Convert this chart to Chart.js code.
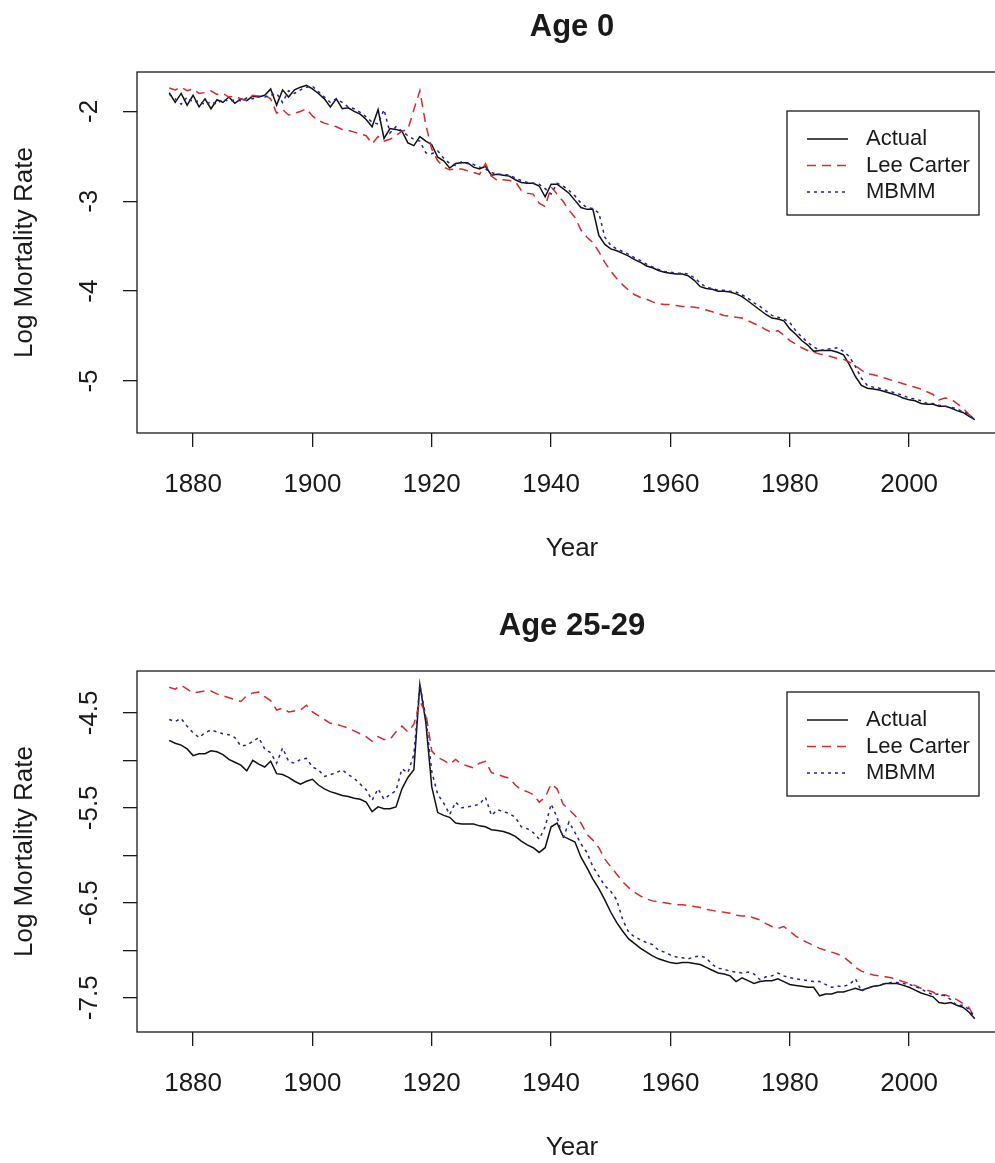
<!DOCTYPE html>
<html>
<head>
<meta charset="utf-8">
<title>Log Mortality Rate</title>
<script src="https://cdn.jsdelivr.net/npm/chart.js@4.4.1/dist/chart.umd.min.js"></script>
<style>
  html,body{margin:0;padding:0;background:#fff;overflow:hidden;width:995px;height:1163px;position:relative;}
  .panel{position:absolute;left:0;width:1010px;height:599px;}
  canvas{display:block;}
</style>
</head>
<body>
<div class="panel" style="top:0"><canvas id="age0" width="1010" height="599" style="width:1010px;height:599px"></canvas></div>
<div class="panel" style="top:599px"><canvas id="age2529" width="1010" height="599" style="width:1010px;height:599px"></canvas></div>
<script>
// Years 1876-2011
const years = [
  1876,1877,1878,1879,1880,1881,1882,1883,1884,1885,
  1886,1887,1888,1889,1890,1891,1892,1893,1894,1895,
  1896,1897,1898,1899,1900,1901,1902,1903,1904,1905,
  1906,1907,1908,1909,1910,1911,1912,1913,1914,1915,
  1916,1917,1918,1919,1920,1921,1922,1923,1924,1925,
  1926,1927,1928,1929,1930,1931,1932,1933,1934,1935,
  1936,1937,1938,1939,1940,1941,1942,1943,1944,1945,
  1946,1947,1948,1949,1950,1951,1952,1953,1954,1955,
  1956,1957,1958,1959,1960,1961,1962,1963,1964,1965,
  1966,1967,1968,1969,1970,1971,1972,1973,1974,1975,
  1976,1977,1978,1979,1980,1981,1982,1983,1984,1985,
  1986,1987,1988,1989,1990,1991,1992,1993,1994,1995,
  1996,1997,1998,1999,2000,2001,2002,2003,2004,2005,
  2006,2007,2008,2009,2010,2011
];

// Age 0
const age0Actual = [
  -1.79,-1.90,-1.80,-1.93,-1.82,-1.95,-1.86,-1.97,-1.87,-1.90,
  -1.84,-1.91,-1.86,-1.88,-1.83,-1.84,-1.82,-1.75,-1.93,-1.76,
  -1.84,-1.76,-1.73,-1.71,-1.75,-1.80,-1.86,-1.95,-1.86,-1.97,
  -1.96,-2.00,-2.03,-2.09,-2.17,-1.98,-2.30,-2.19,-2.20,-2.22,
  -2.35,-2.38,-2.28,-2.33,-2.37,-2.51,-2.55,-2.63,-2.58,-2.57,
  -2.57,-2.62,-2.64,-2.61,-2.71,-2.70,-2.71,-2.72,-2.76,-2.79,
  -2.80,-2.80,-2.83,-2.95,-2.81,-2.81,-2.86,-2.91,-2.99,-3.07,
  -3.09,-3.09,-3.38,-3.48,-3.53,-3.55,-3.58,-3.61,-3.65,-3.68,
  -3.72,-3.74,-3.77,-3.79,-3.80,-3.81,-3.81,-3.83,-3.88,-3.95,
  -3.97,-3.98,-4.00,-4.00,-4.01,-4.03,-4.06,-4.11,-4.16,-4.21,
  -4.26,-4.30,-4.31,-4.33,-4.42,-4.48,-4.55,-4.60,-4.67,-4.66,
  -4.66,-4.66,-4.68,-4.71,-4.82,-4.95,-5.05,-5.08,-5.09,-5.10,
  -5.12,-5.14,-5.16,-5.19,-5.21,-5.22,-5.25,-5.26,-5.26,-5.28,
  -5.28,-5.30,-5.33,-5.35,-5.39,-5.43
];
const age0LeeCarter = [
  -1.74,-1.76,-1.73,-1.77,-1.75,-1.80,-1.79,-1.77,-1.81,-1.80,
  -1.84,-1.83,-1.86,-1.88,-1.82,-1.83,-1.82,-1.86,-2.02,-1.98,
  -2.04,-2.02,-2.00,-1.97,-2.05,-2.10,-2.13,-2.15,-2.17,-2.20,
  -2.21,-2.23,-2.25,-2.27,-2.36,-2.28,-2.33,-2.31,-2.27,-2.22,
  -2.20,-1.98,-1.77,-2.15,-2.42,-2.55,-2.62,-2.65,-2.64,-2.64,
  -2.66,-2.68,-2.70,-2.58,-2.72,-2.77,-2.76,-2.77,-2.78,-2.88,
  -2.91,-2.92,-3.02,-3.06,-2.84,-2.92,-3.00,-3.10,-3.18,-3.32,
  -3.40,-3.46,-3.56,-3.68,-3.78,-3.86,-3.93,-3.99,-4.04,-4.07,
  -4.09,-4.12,-4.14,-4.15,-4.15,-4.16,-4.17,-4.17,-4.18,-4.19,
  -4.21,-4.23,-4.25,-4.27,-4.28,-4.29,-4.30,-4.33,-4.36,-4.39,
  -4.43,-4.46,-4.44,-4.49,-4.55,-4.59,-4.63,-4.66,-4.68,-4.70,
  -4.71,-4.73,-4.75,-4.76,-4.79,-4.83,-4.88,-4.92,-4.93,-4.95,
  -4.97,-4.99,-5.01,-5.03,-5.05,-5.07,-5.09,-5.12,-5.15,-5.21,
  -5.19,-5.20,-5.25,-5.30,-5.37,-5.43
];
const age0Mbmm = [
  -1.81,-1.86,-1.92,-1.84,-1.90,-1.88,-1.93,-1.89,-1.92,-1.86,
  -1.89,-1.87,-1.88,-1.85,-1.86,-1.83,-1.84,-1.82,-1.80,-1.90,
  -1.77,-1.80,-1.76,-1.73,-1.72,-1.78,-1.84,-1.90,-1.86,-1.90,
  -1.95,-1.97,-2.01,-2.06,-2.12,-2.14,-1.98,-2.24,-2.17,-2.22,
  -2.27,-2.31,-2.33,-2.46,-2.47,-2.44,-2.52,-2.58,-2.60,-2.56,
  -2.58,-2.59,-2.62,-2.64,-2.68,-2.70,-2.70,-2.71,-2.74,-2.77,
  -2.79,-2.80,-2.81,-2.86,-2.92,-2.80,-2.83,-2.88,-2.94,-3.02,
  -3.07,-3.08,-3.13,-3.40,-3.49,-3.53,-3.56,-3.59,-3.63,-3.66,
  -3.70,-3.73,-3.76,-3.78,-3.79,-3.80,-3.80,-3.81,-3.85,-3.91,
  -3.96,-3.97,-3.99,-3.99,-4.00,-4.01,-4.04,-4.08,-4.13,-4.17,
  -4.22,-4.27,-4.29,-4.31,-4.35,-4.44,-4.51,-4.57,-4.62,-4.66,
  -4.65,-4.64,-4.63,-4.67,-4.73,-4.84,-4.97,-5.05,-5.07,-5.08,
  -5.10,-5.12,-5.14,-5.16,-5.19,-5.20,-5.22,-5.25,-5.25,-5.27,
  -5.28,-5.29,-5.31,-5.34,-5.37,-5.43
];

// Age 25-29
const age2529Actual = [
  -4.79,-4.82,-4.84,-4.88,-4.95,-4.93,-4.93,-4.90,-4.91,-4.94,
  -4.99,-5.02,-5.05,-5.11,-5.00,-5.04,-5.07,-5.01,-5.14,-5.15,
  -5.18,-5.22,-5.25,-5.22,-5.20,-5.26,-5.30,-5.33,-5.35,-5.37,
  -5.38,-5.40,-5.41,-5.44,-5.54,-5.49,-5.51,-5.51,-5.49,-5.30,
  -5.18,-5.10,-4.20,-4.60,-5.28,-5.55,-5.58,-5.60,-5.66,-5.67,
  -5.67,-5.67,-5.69,-5.70,-5.73,-5.74,-5.75,-5.77,-5.80,-5.85,
  -5.89,-5.92,-5.97,-5.92,-5.70,-5.66,-5.80,-5.83,-5.86,-6.02,
  -6.13,-6.25,-6.35,-6.47,-6.60,-6.71,-6.80,-6.88,-6.93,-6.98,
  -7.02,-7.06,-7.09,-7.11,-7.13,-7.14,-7.13,-7.13,-7.14,-7.15,
  -7.18,-7.21,-7.24,-7.25,-7.27,-7.33,-7.29,-7.32,-7.35,-7.33,
  -7.32,-7.32,-7.30,-7.33,-7.36,-7.37,-7.38,-7.39,-7.39,-7.48,
  -7.46,-7.46,-7.44,-7.44,-7.42,-7.40,-7.42,-7.40,-7.38,-7.37,
  -7.35,-7.35,-7.35,-7.37,-7.39,-7.42,-7.45,-7.47,-7.49,-7.55,
  -7.56,-7.55,-7.58,-7.60,-7.65,-7.72
];
const age2529LeeCarter = [
  -4.23,-4.25,-4.21,-4.25,-4.29,-4.28,-4.27,-4.27,-4.30,-4.32,
  -4.34,-4.36,-4.38,-4.32,-4.29,-4.28,-4.33,-4.37,-4.47,-4.45,
  -4.49,-4.48,-4.47,-4.42,-4.49,-4.53,-4.57,-4.61,-4.62,-4.64,
  -4.66,-4.69,-4.72,-4.75,-4.80,-4.75,-4.78,-4.78,-4.70,-4.64,
  -4.70,-4.62,-4.38,-4.50,-4.90,-4.97,-5.00,-5.04,-4.99,-5.04,
  -5.06,-5.08,-5.03,-5.01,-5.13,-5.15,-5.17,-5.19,-5.26,-5.31,
  -5.33,-5.36,-5.44,-5.39,-5.25,-5.30,-5.46,-5.52,-5.58,-5.66,
  -5.78,-5.84,-5.92,-6.04,-6.12,-6.20,-6.28,-6.34,-6.39,-6.43,
  -6.46,-6.48,-6.49,-6.50,-6.51,-6.52,-6.52,-6.53,-6.54,-6.55,
  -6.57,-6.58,-6.59,-6.60,-6.61,-6.63,-6.64,-6.64,-6.66,-6.68,
  -6.72,-6.75,-6.77,-6.75,-6.80,-6.85,-6.89,-6.92,-6.95,-6.98,
  -7.00,-7.02,-7.04,-7.07,-7.12,-7.18,-7.22,-7.24,-7.26,-7.27,
  -7.28,-7.29,-7.31,-7.33,-7.35,-7.37,-7.40,-7.42,-7.44,-7.48,
  -7.47,-7.49,-7.52,-7.56,-7.60,-7.71
];
const age2529Mbmm = [
  -4.57,-4.59,-4.56,-4.64,-4.71,-4.76,-4.71,-4.68,-4.70,-4.72,
  -4.73,-4.76,-4.85,-4.84,-4.80,-4.76,-4.88,-4.92,-5.03,-4.87,
  -5.01,-5.03,-4.99,-4.98,-5.07,-5.10,-5.17,-5.15,-5.13,-5.10,
  -5.15,-5.19,-5.25,-5.31,-5.42,-5.30,-5.41,-5.36,-5.32,-5.09,
  -5.13,-4.94,-4.20,-4.55,-5.12,-5.36,-5.45,-5.57,-5.44,-5.50,
  -5.49,-5.48,-5.46,-5.39,-5.58,-5.52,-5.54,-5.56,-5.60,-5.70,
  -5.72,-5.76,-5.83,-5.70,-5.46,-5.60,-5.82,-5.65,-5.76,-5.88,
  -5.97,-6.12,-6.22,-6.32,-6.38,-6.47,-6.68,-6.81,-6.86,-6.89,
  -6.92,-6.94,-7.00,-7.02,-7.05,-7.07,-7.08,-7.09,-7.07,-7.06,
  -7.08,-7.15,-7.19,-7.20,-7.22,-7.23,-7.24,-7.23,-7.25,-7.31,
  -7.28,-7.27,-7.24,-7.27,-7.29,-7.30,-7.31,-7.32,-7.33,-7.33,
  -7.36,-7.39,-7.38,-7.38,-7.36,-7.30,-7.43,-7.40,-7.38,-7.37,
  -7.35,-7.34,-7.34,-7.35,-7.36,-7.38,-7.41,-7.44,-7.47,-7.46,
  -7.48,-7.52,-7.58,-7.58,-7.62,-7.71
];

// Axis ticks and their labels
const xTicks = [1880, 1900, 1920, 1940, 1960, 1980, 2000];
const age0YTicks = [-5, -4, -3, -2];
const age0YLabels = ['-5', '-4', '-3', '-2'];
const age2529YTicks = [-7.5, -7, -6.5, -6, -5.5, -5, -4.5];
const age2529YLabels = ['-7.5', '', '-6.5', '', '-5.5', '', '-4.5'];

const seriesNames = ['Actual', 'Lee Carter', 'MBMM'];
const seriesColors = ['#111111', '#d42c2c', '#22229a'];
const seriesDash = [[], [9, 6], [3, 4]];

const FONT = '"Liberation Sans", Arial, Helvetica, sans-serif';
const INK = '#1a1a1a';

// R-style axis limits: data range padded by 4% each side
function rRange(vals){
  const lo = Math.min(...vals), hi = Math.max(...vals), pad = (hi - lo) * 0.04;
  return {min: lo - pad, max: hi + pad};
}

// box, title, rotated y labels and legend, drawn on top of the chart
function decor(title, yLabels, legendTop){
  return {
    id: 'decor',
    afterDraw(chart){
      const {ctx, chartArea: a} = chart;
      const y = chart.scales.y;
      ctx.save();
      ctx.strokeStyle = INK; ctx.lineWidth = 1.3;
      ctx.strokeRect(a.left, a.top, a.right - a.left, a.bottom - a.top);

      ctx.fillStyle = INK; ctx.textAlign = 'center'; ctx.textBaseline = 'middle';
      ctx.font = 'bold 31px ' + FONT;
      ctx.fillText(title, (a.left + a.right) / 2, 27);

      ctx.font = '26px ' + FONT;
      y.ticks.forEach((t, i) => {
        if (!yLabels[i]) return;
        ctx.save();
        ctx.translate(90, y.getPixelForValue(t.value));
        ctx.rotate(-Math.PI / 2);
        ctx.fillText(yLabels[i], 0, 0);
        ctx.restore();
      });

      const lx = 787, lw = 192, lh = 104;
      ctx.strokeRect(lx, legendTop, lw, lh);
      ctx.textAlign = 'left'; ctx.font = '22px ' + FONT;
      chart.data.datasets.forEach((ds, i) => {
        const ly = legendTop + 28 + i * 26.5;
        ctx.beginPath();
        ctx.setLineDash(ds.borderDash); ctx.strokeStyle = ds.borderColor; ctx.lineWidth = ds.borderWidth;
        ctx.moveTo(lx + 20, ly); ctx.lineTo(lx + 61, ly); ctx.stroke();
        ctx.setLineDash([]);
        ctx.fillStyle = INK; ctx.fillText(ds.label, lx + 79, ly);
      });
      ctx.restore();
    }
  };
}

function makePanel(id, title, series, yTicks, yLabels, legendTop){
  const xr = rRange(years);
  const yr = rRange([].concat(...series));
  const axisGrid = {drawOnChartArea: false, drawTicks: true, tickLength: 14, color: INK, lineWidth: 1.3};
  return new Chart(document.getElementById(id), {
    type: 'line',
    data: {
      datasets: series.map((vals, i) => ({
        label: seriesNames[i],
        data: years.map((yy, k) => ({x: yy, y: vals[k]})),
        borderColor: seriesColors[i], borderDash: seriesDash[i], borderWidth: 1.5,
        pointRadius: 0, tension: 0, fill: false, order: 3 - i
      }))
    },
    options: {
      responsive: false, animation: false, devicePixelRatio: 1,
      layout: {padding: {top: 72, right: 3, bottom: 0, left: 0}},
      plugins: {legend: {display: false}, tooltip: {enabled: false}},
      scales: {
        x: {
          type: 'linear', min: xr.min, max: xr.max,
          afterBuildTicks: s => { s.ticks = xTicks.map(v => ({value: v})); },
          afterFit: s => { s.height = 166; },
          grid: axisGrid, border: {display: false},
          ticks: {font: {family: FONT, size: 26}, color: INK, padding: 22, maxRotation: 0, autoSkip: false, callback: v => String(v)},
          title: {display: true, text: 'Year', font: {family: FONT, size: 26}, color: INK, padding: {top: 0, bottom: 35}}
        },
        y: {
          type: 'linear', min: yr.min, max: yr.max,
          afterBuildTicks: s => { s.ticks = yTicks.map(v => ({value: v})); },
          afterFit: s => { s.width = 137; },
          grid: axisGrid, border: {display: false},
          ticks: {display: false},
          title: {display: true, text: 'Log Mortality Rate', font: {family: FONT, size: 26}, color: INK, padding: {top: 9, bottom: 0}}
        }
      }
    },
    plugins: [decor(title, yLabels, legendTop)]
  });
}

makePanel('age0', 'Age 0', [age0Actual, age0LeeCarter, age0Mbmm], age0YTicks, age0YLabels, 111);
makePanel('age2529', 'Age 25-29', [age2529Actual, age2529LeeCarter, age2529Mbmm], age2529YTicks, age2529YLabels, 93);
</script>
</body>
</html>
